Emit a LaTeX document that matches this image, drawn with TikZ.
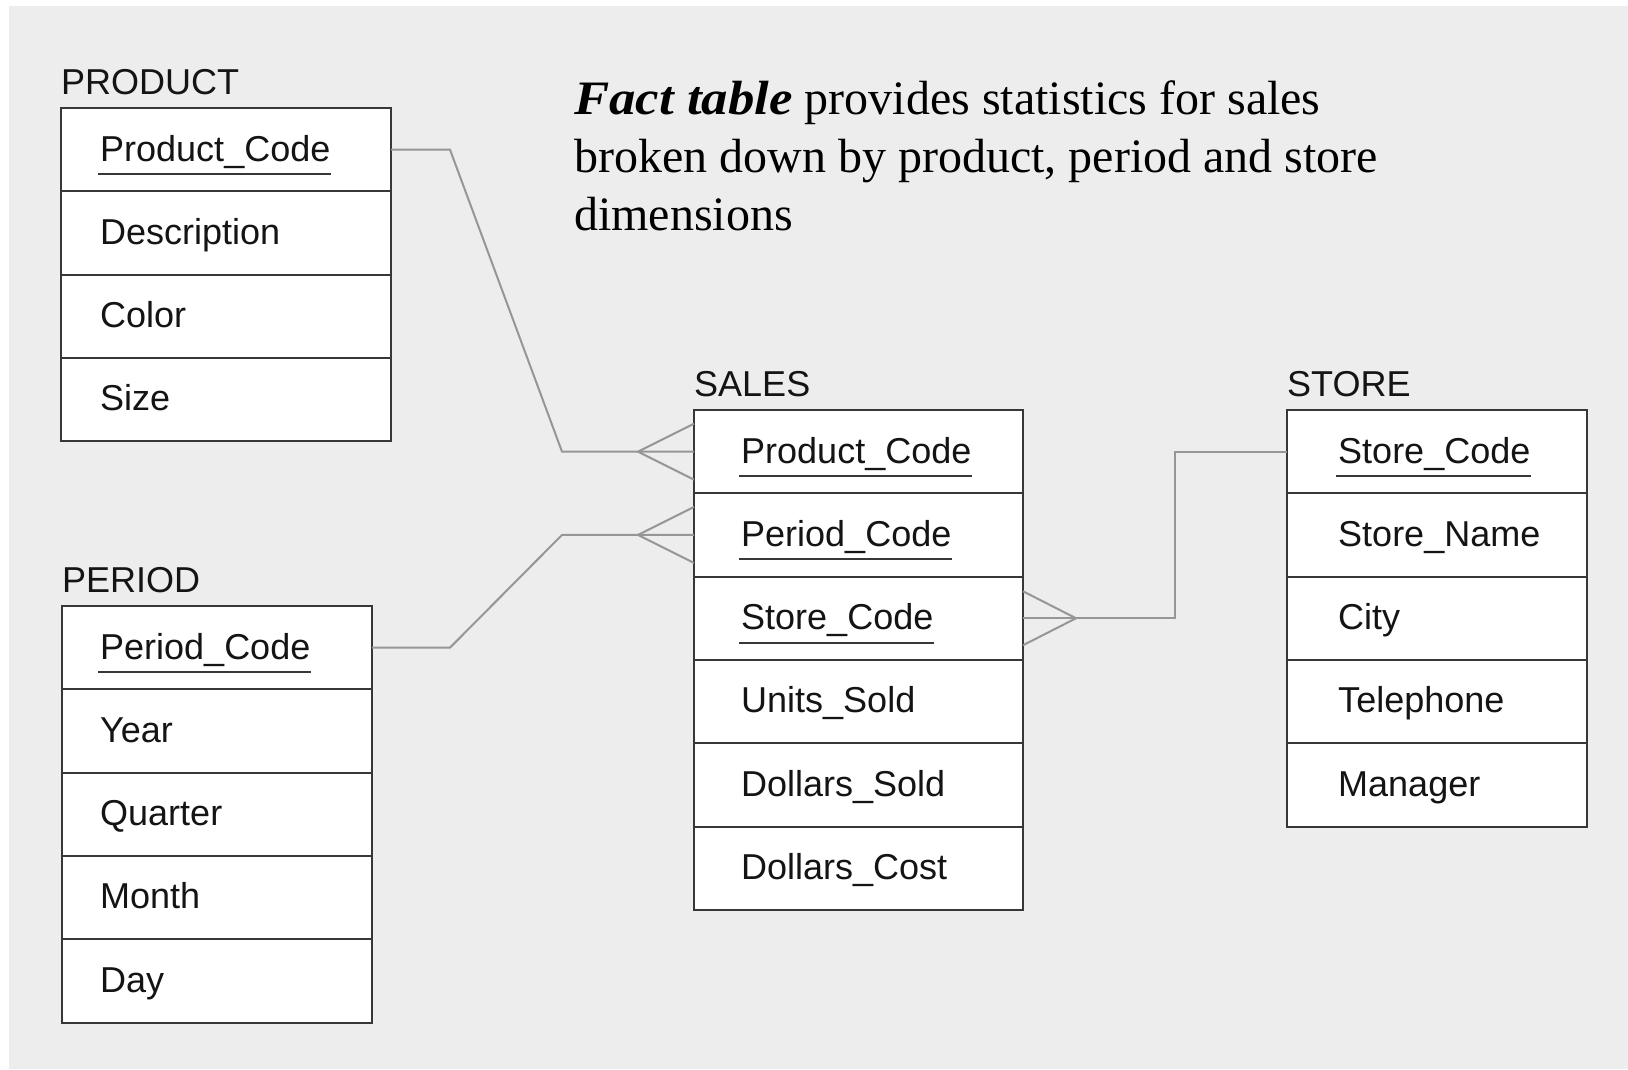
\documentclass[tikz,border=0pt]{standalone}
\usepackage{fontspec}
\usepackage{graphicx}
\setmainfont{Liberation Serif}
\newfontfamily\fieldfont{Liberation Sans}
\definecolor{pagebg}{RGB}{237,237,237}
\definecolor{boxline}{RGB}{55,55,55}
\definecolor{linkgray}{RGB}{150,150,150}
\definecolor{inkblack}{RGB}{20,20,20}

\tikzset{
  cell/.style={draw=boxline, line width=2pt, fill=white, minimum width=#1,
    minimum height=83.3pt, anchor=north west, inner sep=0pt, outer sep=0pt},
  tabtitle/.style={anchor=base west, inner sep=0pt, text=inkblack,
    font=\fieldfont\fontsize{36}{40}\selectfont},
  fieldtext/.style={anchor=base west, inner sep=0pt, text=inkblack,
    font=\fieldfont\fontsize{36}{40}\selectfont},
  keyline/.style={draw=boxline, line width=2pt},
  link/.style={draw=linkgray, line width=2pt, line join=miter},
  facttext/.style={anchor=base west, inner sep=0pt, text=black,
    font=\fontsize{48}{58}\selectfont},
}

% #1 id, #2 left x, #3 top y, #4 width, #5 text inset, #6 key rows,
% #7 table title, #8 field list
\newcommand\dbtable[8]{%
  \node[tabtitle] (#1-title) at (#2, #3-14) {#7};
  \foreach \f [count=\i] in {#8} {
    \node[cell=#4] (#1-\i) at (#2, {#3+(\i-1)*83.3}) {};
    \node[fieldtext] (#1-\i-t) at ([xshift=#5, yshift=-53pt]#1-\i.north west) {\f};
    \ifnum\i>#6\relax\else
      \draw[keyline] ([xshift=-2pt, yshift=-13pt]#1-\i-t.base west)
        -- ([yshift=-13pt]#1-\i-t.base east);
    \fi
  }%
}

\begin{document}
\begin{tikzpicture}[x=1pt, y=-1pt]
  % page and background panel
  \useasboundingbox (0,0) rectangle (1628,1069);
  \fill[white] (0,0) rectangle (1628,1069);
  \fill[pagebg] (9,6) rectangle (1628,1069);

  % caption
  \node[facttext] (fact1) at (574,114)
    {\scalebox{1.1}[1]{\textbf{\textit{Fact table}}} provides statistics for sales};
  \node[facttext] (fact2) at (574,172) {broken down by product, period and store};
  \node[facttext] (fact3) at (574,230) {dimensions};

  % dimension and fact tables
  \dbtable{product}{61}{108}{330pt}{39pt}{1}{PRODUCT}
    {Product\_Code, Description, Color, Size}
  \dbtable{period}{62}{606}{310pt}{38pt}{1}{PERIOD}
    {Period\_Code, Year, Quarter, Month, Day}
  \dbtable{sales}{694}{410}{329pt}{47pt}{3}{SALES}
    {Product\_Code, Period\_Code, Store\_Code, Units\_Sold, Dollars\_Sold, Dollars\_Cost}
  \dbtable{store}{1287}{410}{300pt}{51pt}{1}{STORE}
    {Store\_Code, Store\_Name, City, Telephone, Manager}

  % PRODUCT -> SALES (many)
  \draw[link] (product-1.east) -- ++(59,0) -- ([xshift=-132pt]sales-1.west) -- (sales-1.west);
  \coordinate (pfoot) at ([xshift=-56pt]sales-1.west);
  \draw[link] ([yshift=28pt]sales-1.west) -- (pfoot) -- ([yshift=-28pt]sales-1.west);

  % PERIOD -> SALES (many)
  \draw[link] (period-1.east) -- ++(78,0) -- ([xshift=-132pt]sales-2.west) -- (sales-2.west);
  \coordinate (dfoot) at ([xshift=-56pt]sales-2.west);
  \draw[link] ([yshift=28pt]sales-2.west) -- (dfoot) -- ([yshift=-28pt]sales-2.west);

  % STORE -> SALES (many)
  \coordinate (sbend) at ([xshift=152pt]sales-3.east);
  \draw[link] (sales-3.east) -- (sbend) -- (sbend |- store-1.west) -- (store-1.west);
  \coordinate (sfoot) at ([xshift=53pt]sales-3.east);
  \draw[link] ([yshift=27pt]sales-3.east) -- (sfoot) -- ([yshift=-27pt]sales-3.east);
\end{tikzpicture}
\end{document}
